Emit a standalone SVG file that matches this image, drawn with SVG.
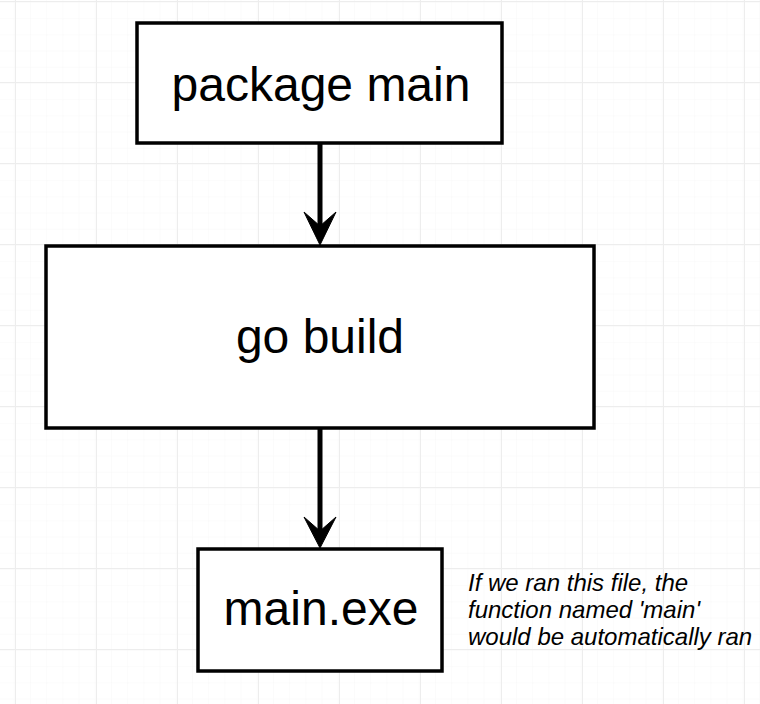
<svg xmlns="http://www.w3.org/2000/svg" width="760" height="704" viewBox="0 0 760 704">
  <defs>
    <pattern id="minor" x="15" y="1" width="16.2" height="16.2" patternUnits="userSpaceOnUse">
      <path d="M0 0 H16.2 M0 0 V16.2" fill="none" stroke="#f8f8f8" stroke-width="1"/>
    </pattern>
    <pattern id="major" x="15" y="1" width="81" height="81" patternUnits="userSpaceOnUse">
      <rect width="81" height="81" fill="url(#minor)"/>
      <path d="M0 0.5 H81 M0.5 0 V81" fill="none" stroke="#ededed" stroke-width="1"/>
    </pattern>
  </defs>
  <style>
    .box { fill: #ffffff; stroke: #000000; stroke-width: 3.5; }
    .label { font-family: "Liberation Sans", Arial, Helvetica, sans-serif; font-size: 48px; fill: #000000; text-anchor: middle; }
    .note { font-family: "Liberation Sans", Arial, Helvetica, sans-serif; font-size: 24px; font-style: italic; fill: #000000; }
    .edge { stroke: #000000; stroke-width: 5; fill: none; }
    .head { fill: #000000; stroke: #000000; stroke-width: 1; stroke-linejoin: miter; }
  </style>
  <rect width="760" height="704" fill="#ffffff"/>
  <rect width="760" height="704" fill="url(#major)"/>

  <g id="connectors">
    <line class="edge" x1="320" y1="143" x2="320" y2="226"/>
    <polygon class="head" points="320,245 304,212 320,226 336,212"/>
    <line class="edge" x1="320" y1="428" x2="320" y2="532"/>
    <polygon class="head" points="320,548 304,517 320,531 336,517"/>
  </g>

  <g id="node-package-main">
    <rect class="box" x="137" y="23" width="365" height="120"/>
    <text class="label" x="321" y="101">package main</text>
  </g>

  <g id="node-go-build">
    <rect class="box" x="46" y="246" width="548" height="182"/>
    <text class="label" x="320" y="353">go build</text>
  </g>

  <g id="node-main-exe">
    <rect class="box" x="198" y="549" width="244" height="122"/>
    <text class="label" x="321" y="625">main.exe</text>
  </g>

  <g id="note">
    <text class="note" x="468" y="591">If we ran this file, the</text>
    <text class="note" x="468" y="618">function named 'main'</text>
    <text class="note" x="468" y="645">would be automatically ran</text>
  </g>
</svg>
